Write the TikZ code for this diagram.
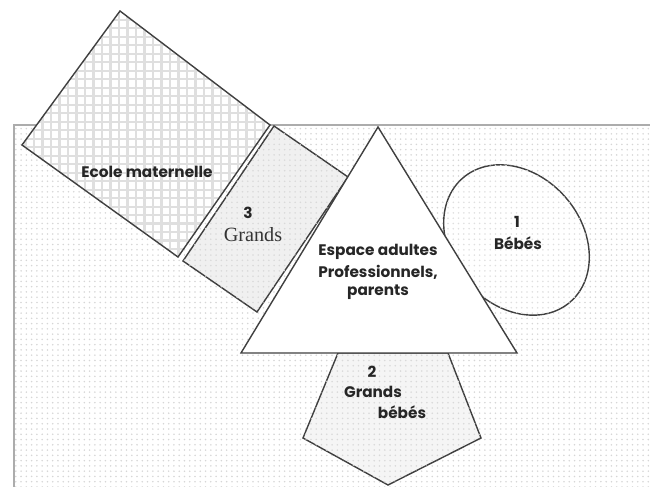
\documentclass[tikz,border=0pt]{standalone}
\usepackage{fontspec}
\setsansfont{Poppins}
\newfontfamily\grandsfont{Liberation Serif}
\usetikzlibrary{patterns}

\tikzset{
  wall/.style={draw=black!75,line width=0.8pt,line join=miter},
  lbl/.style={font=\sffamily\bfseries\fontsize{8.7}{9}\selectfont,text=black!85,inner sep=0pt}
}

\begin{document}
\begin{tikzpicture}[x=0.02cm,y=0.02cm]
\useasboundingbox (0,0) rectangle (650,487);

% outer room
\begin{scope}
\clip (0,0) rectangle (650,487);
\draw[pattern=dots,pattern color=gray!32,draw=gray!65,line width=1.1pt] (14,362) -- (14,-20) -- (680,-20) -- (680,362) -- cycle;
\end{scope}

% ecole maternelle
\fill[white] (120,476) -- (270,362) -- (178,230) -- (22,342) -- cycle;
\begin{scope}
\clip (120,476) -- (270,362) -- (178,230) -- (22,342) -- cycle;
\draw[gray!25,line width=1.2pt,step=0.17cm] (0,200) grid (300,487);
\end{scope}
\draw[wall] (120,476) -- (270,362) -- (178,230) -- (22,342) -- cycle;

% 3 grands
\draw[wall,fill=gray!12,postaction={pattern=dots,pattern color=gray!30}] (274,361) -- (348,310) -- (257,175) -- (183,226) -- cycle;

% 1 bebes
\draw[wall,fill=white,postaction={pattern=dots,pattern color=gray!25},rotate around={-49:(516.5,247)}] (516.5,247) ellipse [x radius=82,y radius=65];

% 2 grands bebes
\draw[wall,fill=gray!8,postaction={pattern=dots,pattern color=gray!30}] (338,134) -- (448,134) -- (481,49) -- (388,2) -- (303,49) -- cycle;

% espace adultes
\draw[wall,fill=white] (378,360) -- (241,134) -- (517,134) -- cycle;

\node[lbl] (ecole) at (147,315) {Ecole maternelle};
\node[lbl] (g3) at (248,274) {3};
\node[font=\grandsfont\fontsize{11.5}{12}\selectfont,text=black!80,inner sep=0pt] (grands) at (253,252) {Grands};
\node[lbl] (esp1) at (378,235) {Espace adultes};
\node[lbl] (esp2) at (378,215) {Professionnels,};
\node[lbl] (esp3) at (378,195) {parents};
\node[lbl] (b1) at (517,265) {1};
\node[lbl] (bebes) at (518,244) {Bébés};
\node[lbl] (gb2) at (372,115) {2};
\node[lbl] (gb) at (373,95) {Grands};
\node[lbl] (gbb) at (402,75) {bébés};

\end{tikzpicture}
\end{document}
